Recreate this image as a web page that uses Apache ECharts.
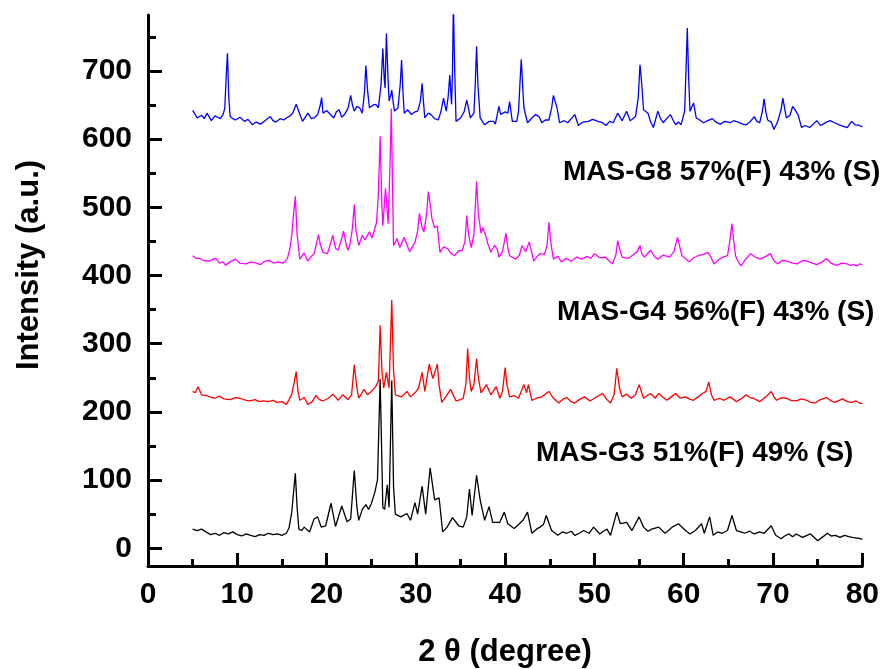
<!DOCTYPE html>
<html>
<head>
<meta charset="utf-8">
<script src="https://cdn.jsdelivr.net/npm/echarts@6/dist/echarts.min.js"></script>
<style>
html,body{margin:0;padding:0;background:#fff;}
#chart{width:882px;height:669px;}
</style>
</head>
<body>
<div id="chart"></div>
<script>
// ---- Data (2θ in degrees, intensity in a.u.) ----
const xTicks = [0,10,20,30,40,50,60,70,80];
const yMajorTicks = [0,100,200,300,400,500,600,700];
const yMinorTicks = [50,150,250,350,450,550,650,750];

const seriesNames = ['MAS-G3','MAS-G4','MAS-G8 (magenta)','MAS-G8 (blue)'];
const seriesColors = ['#000000','#ff0000','#ff00ff','#0000ff'];

const labelTexts = ['MAS-G8 57%(F) 43% (S)','MAS-G4 56%(F) 43% (S)','MAS-G3 51%(F) 49% (S)'];
const xAxisTitle = '2 θ (degree)';
const yAxisTitle = 'Intensity (a.u.)';

const g3 = [[5.0,28],[5.5,26],[6.0,28],[6.5,24],[7.0,20],[7.5,22],[8.0,19],[8.5,23],[9.0,21],[9.5,24],[10.0,20],[10.5,18],[11.0,21],[11.5,19],[12.0,17],[12.5,20],[13.0,19],[13.5,22],[14.0,20],[14.5,21],[15.0,19],[15.5,22],[15.8,30],[16.1,53],[16.5,110],[16.7,60],[16.9,28],[17.2,26],[17.5,31],[18.1,24],[18.6,43],[19.0,46],[19.4,31],[19.9,33],[20.5,66],[21.0,32],[21.7,62],[22.3,39],[22.7,43],[23.1,114],[23.4,60],[23.6,41],[24.0,57],[24.4,64],[24.7,57],[25.0,65],[25.4,82],[25.7,100],[26.0,248],[26.3,60],[26.5,57],[26.8,93],[27.0,60],[27.3,246],[27.5,90],[27.7,50],[28.3,46],[29.0,51],[29.4,41],[29.9,67],[30.2,50],[30.7,91],[31.1,50],[31.6,118],[32.1,71],[32.6,74],[33.0,24],[33.5,31],[34.1,45],[34.8,33],[35.3,31],[35.7,46],[36.0,87],[36.3,48],[36.8,107],[37.2,71],[37.7,41],[38.2,61],[38.6,38],[39.4,38],[39.9,53],[40.3,36],[41.0,29],[41.5,35],[42.0,41],[42.5,53],[43.0,22],[43.5,28],[43.9,31],[44.3,35],[44.6,48],[45.2,26],[45.9,19],[46.4,24],[46.9,22],[47.4,25],[47.8,19],[48.3,22],[48.8,26],[49.4,22],[49.9,31],[50.6,21],[51.0,25],[51.4,28],[51.8,19],[52.5,53],[52.9,36],[53.6,38],[54.2,26],[55.0,46],[55.5,31],[56.0,25],[56.4,28],[57.2,31],[57.9,22],[58.3,26],[58.7,31],[59.4,36],[60.2,26],[60.7,21],[61.3,26],[62.0,36],[62.3,22],[62.9,46],[63.3,19],[63.8,24],[64.3,22],[64.9,26],[65.4,48],[65.9,26],[66.4,24],[66.8,22],[67.4,25],[67.9,21],[68.5,24],[69.0,22],[69.8,33],[70.3,19],[70.9,14],[71.3,18],[71.8,21],[72.2,17],[72.6,21],[73.3,16],[73.8,19],[74.2,21],[75.0,11],[75.5,16],[76.1,22],[76.5,18],[77.0,19],[77.5,16],[78.0,19],[78.5,17],[78.9,16],[79.4,15],[79.8,14],[80.0,13]];

const g4 = [[5.0,230],[5.3,228],[5.6,237],[6.0,225],[6.5,224],[6.9,222],[7.5,220],[8.0,223],[8.5,219],[9.2,218],[9.8,221],[10.3,220],[11.0,217],[11.4,216],[12.0,218],[12.5,215],[12.9,216],[13.5,215],[14.0,217],[14.4,214],[15.0,215],[15.5,211],[15.8,218],[16.1,226],[16.4,245],[16.6,259],[16.8,230],[17.0,217],[17.5,221],[17.9,211],[18.4,215],[18.8,224],[19.2,218],[19.6,216],[20.2,220],[20.7,226],[21.3,217],[21.8,225],[22.4,218],[22.8,225],[23.1,269],[23.4,235],[23.6,220],[24.2,233],[24.6,225],[25.0,230],[25.5,237],[25.8,245],[26.0,327],[26.2,260],[26.4,235],[26.7,258],[27.0,235],[27.3,364],[27.5,260],[27.7,225],[28.4,222],[29.0,230],[29.4,222],[29.9,228],[30.3,235],[30.7,258],[31.0,230],[31.5,270],[31.9,249],[32.4,270],[32.6,240],[32.9,214],[33.4,223],[33.9,233],[34.5,216],[35.0,218],[35.3,220],[35.6,240],[35.8,293],[36.0,250],[36.2,230],[36.5,240],[36.8,278],[37.0,250],[37.3,228],[37.9,240],[38.4,225],[39.0,237],[39.4,220],[39.7,230],[40.0,265],[40.2,240],[40.5,222],[41.0,224],[41.5,220],[42.1,240],[42.4,228],[42.6,240],[43.0,217],[43.5,220],[44.1,222],[44.9,230],[45.4,220],[46.0,213],[46.5,219],[46.9,221],[47.4,215],[47.8,213],[48.3,218],[48.9,222],[49.5,216],[50.0,220],[50.5,224],[50.9,227],[51.4,218],[51.8,213],[52.2,225],[52.5,264],[52.8,235],[53.1,222],[53.6,226],[54.1,220],[54.6,225],[55.0,240],[55.5,220],[55.9,224],[56.3,227],[56.8,220],[57.2,227],[57.7,221],[58.1,217],[58.6,222],[59.1,227],[59.6,220],[60.2,222],[60.6,219],[61.1,217],[61.6,222],[62.1,227],[62.5,230],[62.8,244],[63.1,225],[63.4,217],[64.0,220],[64.5,217],[65.2,222],[65.9,215],[66.5,220],[67.0,225],[67.4,221],[67.8,220],[68.5,215],[69.2,222],[69.8,230],[70.1,222],[70.4,217],[71.0,221],[71.5,220],[72.0,217],[72.6,216],[73.2,219],[73.8,217],[74.2,214],[74.7,213],[75.3,218],[76.0,221],[76.5,216],[76.9,214],[77.4,217],[77.8,219],[78.3,215],[78.8,214],[79.3,216],[79.7,213],[80.0,212]];

const g8m = [[5.0,429],[5.4,425],[5.8,425],[6.2,422],[6.9,421],[7.3,424],[7.6,425],[8.0,418],[8.4,420],[8.7,415],[9.2,420],[9.8,424],[10.3,418],[11.0,417],[11.5,420],[12.1,418],[12.6,416],[13.1,421],[13.6,422],[14.1,418],[14.6,420],[15.1,418],[15.6,424],[15.9,440],[16.1,459],[16.3,490],[16.5,516],[16.7,460],[17.0,424],[17.5,433],[17.9,421],[18.3,428],[18.6,432],[19.1,460],[19.3,445],[19.6,434],[20.1,432],[20.4,445],[20.7,459],[21.0,440],[21.3,437],[21.6,450],[21.9,465],[22.2,445],[22.4,437],[22.6,444],[22.9,470],[23.1,504],[23.3,465],[23.6,444],[24.0,459],[24.3,452],[24.5,450],[24.8,464],[25.1,455],[25.3,454],[25.6,478],[25.8,520],[26.0,604],[26.2,500],[26.3,473],[26.6,528],[26.9,476],[27.1,560],[27.25,645],[27.4,520],[27.5,444],[27.9,454],[28.2,441],[28.7,456],[29.0,445],[29.3,435],[29.9,449],[30.2,465],[30.4,491],[30.7,470],[30.9,464],[31.2,490],[31.4,523],[31.6,505],[31.8,483],[32.1,470],[32.4,473],[32.7,434],[33.1,442],[33.6,439],[33.9,433],[34.3,429],[34.8,436],[35.2,437],[35.5,450],[35.7,488],[35.9,460],[36.2,441],[36.5,460],[36.8,538],[37.0,490],[37.3,462],[37.5,470],[37.8,459],[38.1,445],[38.4,434],[38.8,444],[39.1,439],[39.3,427],[39.7,435],[40.1,462],[40.3,440],[40.5,429],[41.2,424],[41.6,430],[41.9,444],[42.3,435],[42.7,449],[43.2,421],[43.6,428],[43.9,432],[44.4,431],[44.7,445],[44.9,478],[45.1,450],[45.4,424],[45.9,428],[46.3,420],[46.8,425],[47.4,421],[48.0,427],[48.6,424],[49.2,428],[49.6,425],[50.0,432],[50.6,426],[51.2,427],[51.6,422],[52.0,417],[52.4,430],[52.6,451],[52.8,440],[53.1,427],[53.8,425],[54.3,430],[54.8,435],[55.1,444],[55.3,432],[55.6,427],[56.0,433],[56.3,437],[56.7,428],[57.1,424],[57.7,430],[58.4,427],[58.9,435],[59.3,456],[59.5,445],[59.8,429],[60.2,425],[60.6,420],[61.1,426],[61.6,429],[62.2,431],[62.7,434],[63.0,428],[63.4,417],[63.9,423],[64.4,427],[64.9,429],[65.1,445],[65.4,476],[65.6,450],[65.8,429],[66.1,420],[66.4,414],[67.0,425],[67.5,432],[68.0,427],[68.6,424],[69.2,428],[69.7,432],[70.1,422],[70.5,417],[71.0,422],[71.6,421],[72.2,418],[72.7,417],[73.3,422],[73.8,421],[74.4,418],[74.9,416],[75.5,420],[76.0,425],[76.5,418],[77.1,415],[77.7,418],[78.3,417],[78.7,415],[79.0,416],[79.4,414],[79.7,417],[80.0,416]];

const g8b = [[5.0,642],[5.3,636],[5.5,631],[6.0,635],[6.3,630],[6.6,638],[7.1,627],[7.5,634],[7.8,632],[8.1,630],[8.4,636],[8.6,645],[8.75,690],[8.9,726],[9.05,660],[9.2,633],[9.5,630],[9.8,628],[10.3,632],[10.8,626],[11.2,629],[11.7,621],[12.1,625],[12.6,622],[13.1,627],[13.7,633],[14.0,627],[14.3,625],[14.8,630],[15.2,628],[15.5,631],[15.9,634],[16.2,638],[16.6,651],[16.9,640],[17.3,626],[17.6,632],[17.9,638],[18.3,630],[18.6,631],[19.0,636],[19.3,650],[19.45,661],[19.6,638],[20.0,642],[20.3,638],[20.8,631],[21.1,640],[21.4,643],[21.7,632],[22.0,636],[22.4,645],[22.7,664],[22.9,650],[23.1,641],[23.4,648],[23.7,646],[24.0,638],[24.25,670],[24.4,708],[24.6,670],[24.8,646],[25.2,650],[25.5,651],[25.8,646],[26.1,680],[26.3,733],[26.45,690],[26.55,675],[26.7,755],[26.85,700],[27.0,656],[27.2,665],[27.3,672],[27.45,655],[27.6,641],[28.0,646],[28.25,680],[28.4,716],[28.55,670],[28.7,638],[29.1,643],[29.5,636],[29.9,640],[30.2,641],[30.5,655],[30.7,682],[30.85,655],[31.0,631],[31.4,638],[31.7,636],[32.1,630],[32.5,628],[32.8,640],[33.1,660],[33.25,650],[33.4,641],[33.6,660],[33.8,694],[33.95,660],[34.0,651],[34.1,700],[34.2,800],[34.35,700],[34.5,626],[35.0,631],[35.4,640],[35.7,657],[35.9,645],[36.1,631],[36.5,638],[36.65,680],[36.8,736],[36.95,680],[37.2,631],[37.7,621],[38.2,626],[38.7,626],[38.9,622],[39.3,648],[39.5,636],[39.7,636],[40.0,640],[40.3,638],[40.5,655],[40.8,626],[41.3,626],[41.5,641],[41.65,680],[41.8,717],[41.95,680],[42.1,646],[42.5,624],[43.0,631],[43.4,636],[43.8,633],[44.1,624],[44.5,628],[44.9,628],[45.2,645],[45.4,664],[45.6,655],[45.8,646],[46.1,624],[46.6,627],[47.0,624],[47.4,630],[47.8,636],[48.2,620],[48.7,625],[49.3,626],[49.8,629],[50.4,626],[50.9,624],[51.3,620],[51.7,626],[52.1,624],[52.6,638],[53.1,627],[53.6,641],[54.0,627],[54.3,630],[54.6,633],[54.9,660],[55.1,709],[55.3,680],[55.5,643],[56.0,638],[56.3,625],[56.6,617],[57.1,641],[57.4,630],[57.7,624],[58.1,630],[58.5,636],[58.8,628],[59.1,621],[59.4,625],[59.7,621],[60.1,641],[60.25,700],[60.4,763],[60.55,690],[60.7,641],[61.1,653],[61.4,631],[61.8,628],[62.2,624],[62.7,627],[63.2,630],[63.6,625],[64.1,622],[64.6,626],[65.2,624],[65.6,627],[66.1,625],[66.6,622],[67.0,621],[67.4,625],[67.9,633],[68.2,626],[68.5,624],[68.8,640],[69.0,659],[69.2,640],[69.4,628],[69.8,625],[70.1,614],[70.5,625],[70.9,643],[71.1,660],[71.3,645],[71.5,631],[71.9,635],[72.2,648],[72.5,642],[72.8,636],[73.2,617],[73.6,620],[74.1,617],[74.5,622],[74.9,627],[75.3,620],[75.6,622],[76.0,625],[76.4,627],[76.9,624],[77.4,621],[77.8,619],[78.3,617],[78.8,626],[79.2,621],[79.7,620],[80.0,618]];

const seriesData = [g3, g4, g8m, g8b];

// ---- Chart ----
const FONT = '"Liberation Sans", Arial, Helvetica, sans-serif';
const chart = echarts.init(document.getElementById('chart'), null, {renderer:'canvas'});

const yBase = {
  type: 'value', min: -26, max: 782, position: 'left',
  splitLine: {show:false}
};

const option = {
  backgroundColor: '#ffffff',
  animation: false,
  grid: {left: 148, right: 18, top: 15, bottom: 103, containLabel: false},
  xAxis: {
    type: 'value', min: 0, max: 80, interval: 10,
    axisLine: {show:true, onZero:false, lineStyle:{color:'#000', width:3}},
    axisTick: {show:true, inside:true, length:13, lineStyle:{color:'#000', width:3}},
    minorTick: {show:true, splitNumber:2, length:7, lineStyle:{color:'#000', width:3}},
    axisLabel: {color:'#000', fontFamily:FONT, fontWeight:'bold', fontSize:30, margin:14,
      customValues: xTicks},
    splitLine: {show:false}, minorSplitLine:{show:false}
  },
  yAxis: [
    Object.assign({}, yBase, {
      axisLine: {show:true, onZero:false, lineStyle:{color:'#000', width:3}},
      axisTick: {show:true, inside:true, length:14, lineStyle:{color:'#000', width:3}, customValues: yMajorTicks},
      axisLabel: {show:true, color:'#000', fontFamily:FONT, fontWeight:'bold', fontSize:30, margin:16, customValues: yMajorTicks}
    }),
    Object.assign({}, yBase, {
      axisLine: {show:false, onZero:false},
      axisTick: {show:true, inside:true, length:8, lineStyle:{color:'#000', width:3}, customValues: yMinorTicks},
      axisLabel: {show:false}
    })
  ],
  series: seriesData.map((d, i) => ({
    name: seriesNames[i], type: 'line', data: d, yAxisIndex: 0,
    showSymbol: false, symbol: 'none', smooth: false, clip: true,
    lineStyle: {color: seriesColors[i], width: 1.3},
    z: 2 + i
  })),
  graphic: [
    {type:'text', left: 563, top: 158, style:{text: labelTexts[0], fill:'#000', font:'bold 28px ' + FONT}},
    {type:'text', left: 557, top: 298, style:{text: labelTexts[1], fill:'#000', font:'bold 28px ' + FONT}},
    {type:'text', left: 536, top: 439, style:{text: labelTexts[2], fill:'#000', font:'bold 28px ' + FONT}},
    {type:'text', x: 505, y: 652, style:{text: xAxisTitle, fill:'#000', font:'bold 31px ' + FONT, textAlign:'center', textVerticalAlign:'middle'}},
    {type:'text', x: 29, y: 265, rotation: Math.PI/2, style:{text: yAxisTitle, fill:'#000', font:'bold 31px ' + FONT, textAlign:'center', textVerticalAlign:'middle'}}
  ]
};
chart.setOption(option);
</script>
</body>
</html>
